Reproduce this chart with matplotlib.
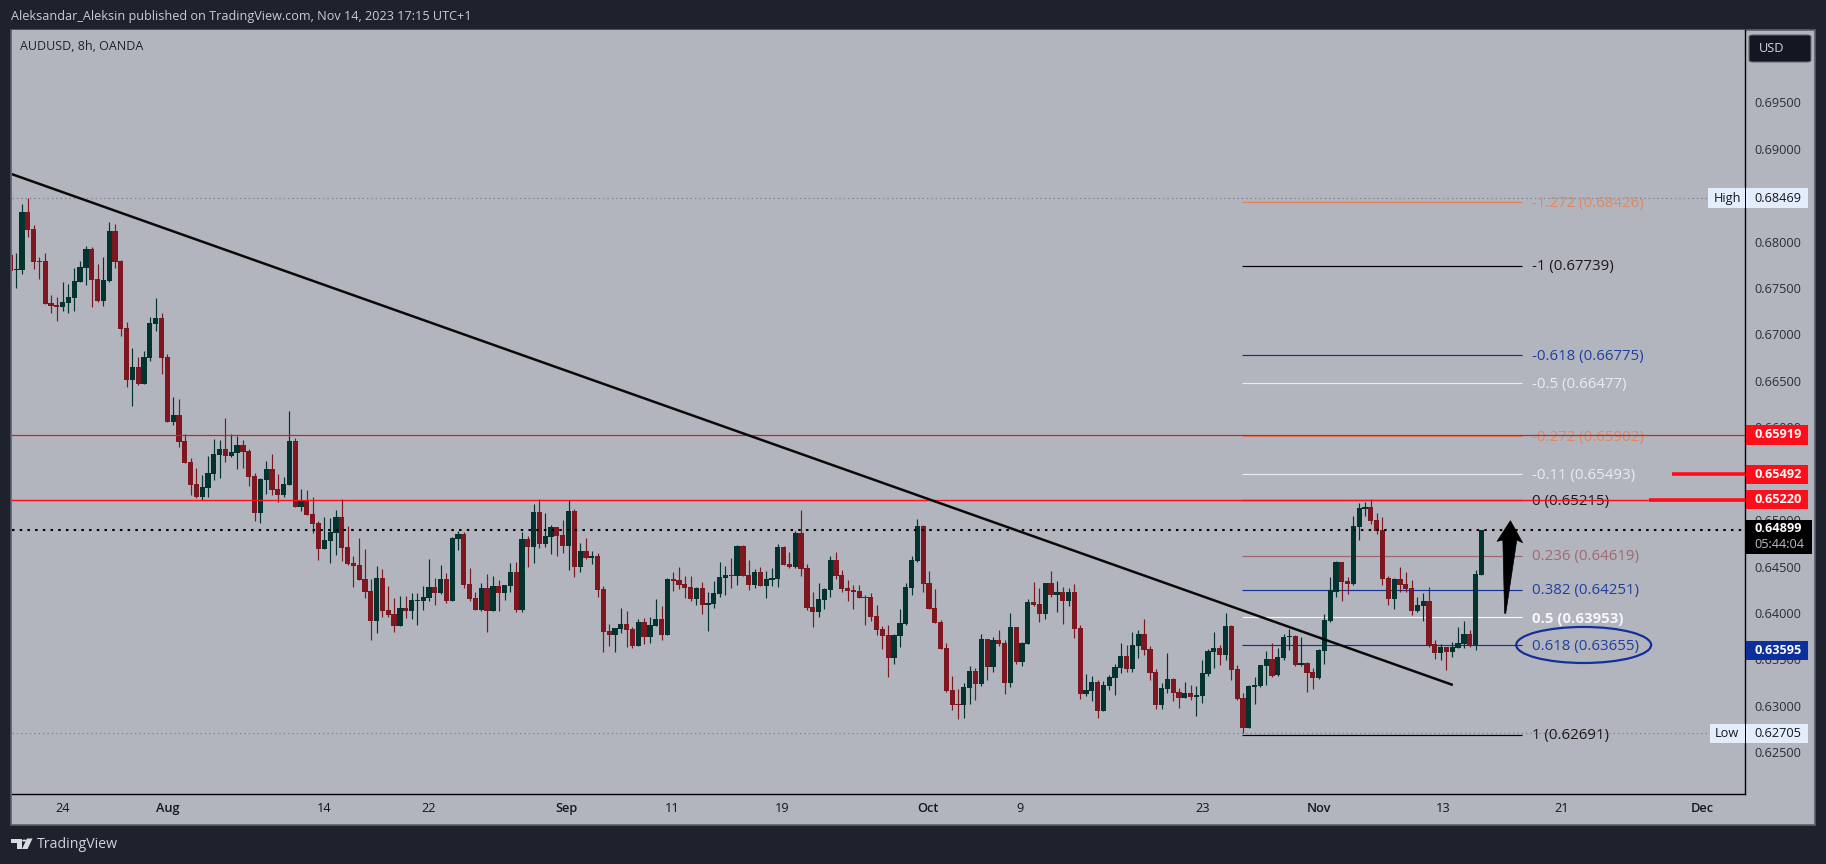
#!/usr/bin/python3
import numpy as np
import matplotlib
matplotlib.use('Agg')
import matplotlib.pyplot as plt
from matplotlib.patches import Rectangle, Polygon, Ellipse, FancyBboxPatch, Circle
from matplotlib.transforms import blended_transform_factory

# AUDUSD 8h candles, in 1e-5 price units
opens_pts = [
    67855, 67690, 67694, 68318, 68135, 67791, 67791, 67338, 67317, 67295,
    67338, 67392, 67564, 67719, 67920, 67597, 67360, 67575, 68114, 67791,
    67069, 66509, 66649, 66466, 66746, 67112, 67177, 66757, 66057, 66132,
    65852, 65626, 65389, 65249, 65346, 65497, 65701, 65766, 65690, 65723,
    65809, 65744, 65475, 65077, 65432, 65550, 65335, 65270, 65378, 65852,
    65142, 65206, 65066, 64969, 64689, 64776, 64862, 65034, 64711, 64539,
    64517, 64366, 64237, 63914, 64377, 64032, 63989, 63860, 64054, 64022,
    64129, 64129, 64162, 64280, 64215, 64366, 64129, 64797, 64851, 64312,
    64162, 64032, 64269, 64022, 64291, 64215, 64291, 64442, 64032, 64797,
    64711, 65088, 64743, 64819, 64926, 64840, 64722, 65099, 64496, 64668,
    64592, 64614, 64259, 63806, 63763, 63828, 63882, 63828, 63645, 63903,
    63742, 63860, 63935, 63763, 64366, 64355, 64312, 64280, 64151, 64269,
    64086, 64097, 64205, 64377, 64409, 64399, 64722, 64409, 64302, 64442,
    64291, 64355, 64366, 64711, 64528, 64496, 64862, 64485, 64065, 64011,
    64141, 64248, 64571, 64410, 64270, 64248, 64238, 64173, 64173, 63968,
    63828, 63764, 63516, 63753, 63882, 64270, 64561, 64938, 64324, 64054,
    63904, 63624, 63171, 63020, 63010, 63193, 63376, 63236, 63721, 63419,
    63710, 63677, 63247, 63850, 63473, 63667, 64119, 64098, 63990, 64324,
    64194, 64227, 64130, 64227, 63839, 63128, 63161, 63257, 62945, 63214,
    63301, 63408, 63537, 63397, 63645, 63774, 63613, 63365, 63010, 63182,
    63290, 63150, 63085, 63139, 63096, 63106, 63343, 63580, 63623, 63548,
    63860, 63397, 63084, 62761, 63203, 63214, 63429, 63504, 63332, 63515,
    63741, 63752, 63440, 63461, 63364, 63300, 63591, 63914, 64226, 64549,
    64345, 64312, 64926, 65120, 65142, 65002, 64894, 64377, 64151, 64366,
    64312, 64269, 64021, 64075, 64129, 63666, 63569, 63634, 63580, 63623,
    63666, 63774, 63655, 64409,
]
highs_pts = [
    67999, 67873, 68404, 68469, 68178, 67830, 67873, 67424, 67403, 67564,
    67543, 67715, 67791, 67952, 67938, 67758, 67834, 68211, 68189, 67801,
    67134, 66854, 66757, 66821, 67187, 67392, 67230, 66789, 66326, 66304,
    65927, 65669, 65561, 65486, 65690, 65873, 65863, 66100, 65927, 65906,
    65863, 65766, 65507, 65453, 65637, 65712, 65497, 65464, 66175, 65884,
    65336, 65325, 65249, 64991, 65034, 65023, 65110, 65228, 64937, 64614,
    64808, 64689, 64366, 64506, 64474, 64291, 64162, 64183, 64183, 64215,
    64215, 64291, 64582, 64377, 64517, 64431, 64819, 64883, 64872, 64485,
    64226, 64323, 64420, 64399, 64355, 64302, 64539, 64549, 64872, 64829,
    65174, 65228, 65077, 64948, 64926, 65002, 65217, 65120, 64754, 64808,
    64668, 64646, 64291, 63882, 63839, 64054, 64022, 63849, 63935, 63946,
    63957, 64151, 64075, 64377, 64442, 64496, 64399, 64399, 64280, 64334,
    64226, 64345, 64549, 64506, 64592, 64732, 64732, 64571, 64474, 64496,
    64452, 64485, 64743, 64722, 64657, 64883, 65110, 64528, 64227, 64324,
    64270, 64614, 64658, 64464, 64356, 64302, 64302, 64194, 64216, 64087,
    63861, 63871, 63774, 64044, 64324, 64614, 65013, 64948, 64453, 64259,
    63925, 63677, 63322, 63182, 63247, 63430, 63408, 63774, 63721, 63742,
    63818, 63710, 64001, 63850, 63688, 64151, 64334, 64270, 64324, 64453,
    64345, 64281, 64270, 64313, 63871, 63344, 63322, 63279, 63268, 63333,
    63451, 63677, 63656, 63796, 63818, 63936, 63645, 63397, 63247, 63570,
    63301, 63193, 63257, 63225, 63214, 63494, 63612, 63795, 63655, 64000,
    63871, 63440, 63138, 63224, 63311, 63440, 63591, 63677, 63623, 63774,
    63828, 63763, 63741, 63472, 63408, 63612, 63989, 64388, 64560, 64549,
    64388, 65045, 65185, 65195, 65228, 65077, 65034, 64398, 64377, 64495,
    64441, 64355, 64172, 64215, 64280, 63709, 63666, 63634, 63688, 63849,
    63914, 63817, 64463, 64899,
]
lows_pts = [
    67557, 67503, 67651, 68053, 67708, 67600, 67331, 67234, 67148, 67252,
    67234, 67252, 67564, 67532, 67299, 67349, 67306, 67564, 67715, 66983,
    66434, 66229, 66455, 66466, 66714, 67037, 66574, 66057, 66024, 65787,
    65615, 65270, 65238, 65216, 65249, 65432, 65453, 65626, 65680, 65550,
    65561, 65367, 64991, 64970, 65282, 65271, 65196, 65249, 65378, 65142,
    65099, 65056, 64862, 64571, 64689, 64539, 64625, 64560, 64517, 64280,
    64356, 64162, 63709, 63785, 63957, 63957, 63796, 63860, 63946, 63935,
    63871, 64032, 64129, 64086, 64205, 64108, 64129, 64679, 64269, 64129,
    64032, 64022, 63795, 64022, 64022, 64140, 64226, 64011, 64011, 64496,
    64539, 64700, 64711, 64636, 64614, 64646, 64463, 64388, 64442, 64582,
    64528, 64172, 63580, 63645, 63580, 63785, 63634, 63623, 63645, 63666,
    63677, 63860, 63709, 63763, 64237, 64259, 64162, 64129, 64086, 63989,
    63806, 64054, 64172, 64194, 64269, 64302, 64399, 64248, 64269, 64291,
    64162, 64291, 64280, 64517, 64485, 64485, 64399, 64033, 63850, 63957,
    64044, 64173, 64367, 64227, 64130, 64044, 64162, 63871, 63914, 63764,
    63613, 63311, 63451, 63634, 63871, 64194, 64550, 64227, 64044, 63893,
    63613, 63150, 62956, 62859, 62870, 63020, 63064, 63214, 63279, 63365,
    63645, 63128, 63204, 63451, 63430, 63667, 64076, 63904, 63936, 64173,
    64011, 63882, 64076, 63731, 63074, 63107, 63053, 62870, 62945, 63171,
    63117, 63354, 63365, 63365, 63516, 63548, 63279, 62967, 62967, 63139,
    63053, 62977, 63085, 63064, 62891, 63031, 63321, 63408, 63440, 63494,
    63278, 63063, 62707, 62761, 63020, 63203, 63224, 63311, 63321, 63494,
    63601, 63429, 63429, 63149, 63181, 63289, 63451, 63903, 64172, 64129,
    64205, 64301, 64786, 65045, 64958, 64851, 64301, 64086, 64043, 64226,
    64226, 63978, 64011, 63914, 63634, 63504, 63494, 63386, 63526, 63623,
    63623, 63634, 63601, 64409,
]
closes_pts = [
    67686, 67708, 68318, 68128, 67783, 67780, 67331, 67306, 67295, 67349,
    67403, 67575, 67726, 67920, 67586, 67360, 67586, 68114, 67780, 67058,
    66509, 66649, 66466, 66757, 67123, 67177, 66746, 66057, 66132, 65841,
    65615, 65378, 65249, 65357, 65507, 65712, 65766, 65690, 65733, 65809,
    65733, 65464, 65077, 65443, 65550, 65324, 65271, 65389, 65852, 65142,
    65206, 65056, 64959, 64689, 64786, 64873, 65034, 64700, 64528, 64506,
    64356, 64226, 63914, 64377, 64022, 63979, 63860, 64054, 64022, 64140,
    64140, 64172, 64280, 64215, 64366, 64129, 64808, 64851, 64302, 64151,
    64032, 64269, 64022, 64291, 64215, 64302, 64442, 64032, 64797, 64711,
    65088, 64743, 64829, 64926, 64829, 64722, 65099, 64496, 64668, 64592,
    64614, 64248, 63795, 63763, 63839, 63882, 63817, 63645, 63903, 63742,
    63871, 63935, 63763, 64366, 64345, 64302, 64269, 64151, 64269, 64086,
    64108, 64215, 64388, 64409, 64399, 64722, 64399, 64302, 64442, 64291,
    64366, 64377, 64711, 64517, 64496, 64862, 64474, 64054, 64011, 64151,
    64259, 64571, 64399, 64259, 64238, 64227, 64162, 64162, 63957, 63817,
    63753, 63516, 63764, 63893, 64281, 64571, 64938, 64313, 64044, 63893,
    63613, 63161, 63010, 63010, 63204, 63376, 63236, 63721, 63419, 63710,
    63667, 63247, 63850, 63473, 63677, 64119, 64087, 63990, 64324, 64194,
    64227, 64130, 64227, 63828, 63128, 63171, 63257, 62945, 63225, 63311,
    63419, 63537, 63397, 63656, 63774, 63602, 63354, 63010, 63193, 63290,
    63139, 63085, 63139, 63096, 63117, 63354, 63591, 63623, 63548, 63860,
    63386, 63074, 62761, 63214, 63224, 63440, 63504, 63321, 63526, 63741,
    63752, 63440, 63461, 63354, 63300, 63601, 63925, 64248, 64549, 64334,
    64312, 64937, 65131, 65142, 64991, 64883, 64366, 64151, 64366, 64301,
    64258, 64021, 64086, 64129, 63655, 63569, 63634, 63580, 63634, 63677,
    63774, 63655, 64420, 64899,
]

x_tick_pos = [9, 27, 54, 72, 95.7, 113.8, 132.8, 157.8, 173.7, 205.1, 225, 246.4, 266.9, 291]
x_tick_labels = ['24', 'Aug', '14', '22', 'Sep', '11', '19', 'Oct', '9', '23', 'Nov', '13', '21', 'Dec']
y_ticks = [0.625, 0.63, 0.635, 0.64, 0.645, 0.65, 0.655, 0.66, 0.665,
           0.67, 0.675, 0.68, 0.685, 0.69, 0.695]

# fib levels
fib_labels = ['-1.272 (0.68426)', '-1 (0.67739)', '-0.618 (0.66775)', '-0.5 (0.66477)',
              '-0.272 (0.65902)', '-0.11 (0.65493)', '0 (0.65215)', '0.236 (0.64619)',
              '0.382 (0.64251)', '0.5 (0.63953)', '0.618 (0.63655)', '1 (0.62691)']
fib_prices = [0.68426, 0.67739, 0.66775, 0.66477, 0.65902, 0.65493, 0.65215, 0.64619,
              0.64251, 0.63953, 0.63655, 0.62691]
fib_colors = ['#e0835a', '#000000', '#12309a', '#e8ebf2', '#e0835a', '#e8ebf2', '#000000', '#9c666c',
              '#12309a', '#f4f6fa', '#12309a', '#000000']
fib_text_colors = ['#dd8a62', '#1a1a1a', '#1f3f9e', '#e8ebf2', '#dd8a62', '#e8ebf2', '#1a1a1a', '#a06a70',
                   '#1f3f9e', '#f4f6fa', '#1f3f9e', '#1a1a1a']

BG = '#1e222d'
PANE = '#b2b5be'
GREEN = '#03332e'
RED = '#7e1720'
W, H = 1826, 864


def fx(px):
    return px / W


def fy(py):
    return 1 - py / H


opens = np.array(opens_pts) / 1e5
highs = np.array(highs_pts) / 1e5
lows = np.array(lows_pts) / 1e5
closes = np.array(closes_pts) / 1e5
idx = np.arange(len(opens))
colors = [GREEN if c >= o else RED for o, c in zip(opens, closes)]

fig = plt.figure(figsize=(W / 100, H / 100), dpi=100, facecolor=BG)
plt.rcParams['font.family'] = 'Open Sans'

# whole chart frame incl. the two scales
frame = Rectangle((fx(11), fy(824.5)), fx(1815 - 11), (824.5 - 30) / H, transform=fig.transFigure,
                  facecolor=PANE, edgecolor='#5b5f6b', linewidth=1.2, zorder=-1)
fig.add_artist(frame)

ax = fig.add_axes([fx(11.5), fy(794), fx(1745.3 - 11.5), (794 - 30) / H])
ax.set_facecolor(PANE)
ax.set_xlim(0.2, 298.4)
ax.set_ylim(0.62051, 0.70279)
for s in ['left', 'top']:
    ax.spines[s].set_visible(False)
for s in ['right', 'bottom']:
    ax.spines[s].set_color('#000000')
    ax.spines[s].set_linewidth(1.0)

ax.yaxis.tick_right()
ax.set_yticks(y_ticks)
ax.set_yticklabels(['%.5f' % v for v in y_ticks], fontsize=9.2, color='#2a2e39')
ax.set_xticks(x_tick_pos)
ax.set_xticklabels(x_tick_labels, fontsize=9.2, color='#131722')
ax.tick_params(axis='y', length=0, pad=6.3)
ax.tick_params(axis='x', length=0, pad=5.5)
for lab, t in zip(ax.get_xticklabels(), x_tick_labels):
    if not t.isdigit():
        lab.set_fontweight('semibold')

# high / low dotted lines
ax.hlines([0.68469, 0.62705], 0.2, 292, colors='#7b7e8c', linewidth=0.9,
          linestyles=(0, (1, 2.5)), zorder=1)

# fib lines and labels
for lab, p, c, tc in zip(fib_labels, fib_prices, fib_colors, fib_text_colors):
    ax.hlines(p, 211.9, 260.06, colors=c, linewidth=0.85, zorder=1.5)
    weight = 'bold' if lab.startswith('0.5 ') else 'normal'
    ax.text(261.7, p - 0.00012, lab, color=tc, fontsize=10.8, va='center', ha='left', fontweight=weight, zorder=2)

# candles
ax.vlines(idx, lows, highs, colors=colors, linewidth=0.85, zorder=3)
ax.bar(idx, np.abs(closes - opens), 0.9, np.minimum(opens, closes), color=colors, linewidth=0, zorder=3.1)

# horizontal levels
ax.axhline(0.65919, color='#cf1f28', linewidth=0.9, zorder=4)
ax.axhline(0.6522, color='#ff0d1a', linewidth=1.0, zorder=4)
ax.hlines(0.6522, 281.9, 298.4, colors='#ff0d1a', linewidth=2.6, zorder=4)
ax.hlines(0.65492, 285.8, 298.4, colors='#ff0d1a', linewidth=2.6, zorder=4)
ax.hlines(0.64899, 0.2, 298.4, colors='#000000', linewidth=1.5, linestyles=(0, (1.2, 2.5)), zorder=4)

# trend line
ax.plot([0.2, 248.1], [0.68728, 0.63225], color='#0a0a0a', linewidth=1.8, zorder=5,
        solid_capstyle='butt')

# arrow and ellipse
arrow_x = [258, 260.1, 259.1, 257.2, 257.0, 256.7, 255.7]
arrow_y = [0.64994, 0.64757, 0.64787, 0.63997, 0.63997, 0.64787, 0.64772]
ax.add_patch(Polygon(np.column_stack([arrow_x, arrow_y]), closed=True, facecolor='#000000',
                     edgecolor='#000000', linewidth=0.5, zorder=5))
ax.add_patch(Ellipse((270.6, 0.63656), 23.2, 0.00388, facecolor='none', edgecolor='#12309a',
                     linewidth=1.6, zorder=5))

# price labels on the scale, x in figure px, y in price
tr = blended_transform_factory(fig.transFigure, ax.transData)
box_h = 19.5 / 9286


def price_box(price, text, fc, tc, right=1807.5, bold=True):
    fig.add_artist(Rectangle((fx(1745.8), price - box_h / 2), fx(right - 1745.8), box_h, transform=tr,
                             facecolor=fc, edgecolor='none', zorder=6))
    fig.text(fx(1754.3), price, text, transform=tr, color=tc, fontsize=9.2, va='center', ha='left',
             fontweight='bold' if bold else 'normal', zorder=7)


price_box(0.65919, '0.65919', '#ff0d1a', '#ffffff')
price_box(0.65492, '0.65492', '#ff0d1a', '#ffffff')
price_box(0.6522, '0.65220', '#ff0d1a', '#ffffff')
price_box(0.63595, '0.63595', '#0d2f9b', '#ffffff')
price_box(0.68469, '0.68469', '#e4edfb', '#131722', bold=False)
price_box(0.62705, '0.62705', '#e4edfb', '#131722', bold=False)

# High / Low tags left of the scale
for price, text, left in [(0.68469, 'High', 1708.3), (0.62705, 'Low', 1710)]:
    fig.add_artist(Rectangle((fx(left), price - box_h / 2), fx(1744.8 - left), box_h, transform=tr,
                             facecolor='#e4edfb', edgecolor='none', zorder=6))
    fig.text(fx(1727), price, text, transform=tr, color='#131722', fontsize=9.2, va='center',
             ha='center', zorder=7)

# current price, two lines
fig.add_artist(Rectangle((fx(1745.8), fy(553.7)), fx(1811.5 - 1745.8), 33.7 / H, transform=fig.transFigure,
                         facecolor='#000000', edgecolor='none', zorder=6))
fig.text(fx(1754.3), fy(529), '0.64899', color='#ffffff', fontsize=9.2, va='center', fontweight='bold', zorder=7)
fig.text(fx(1754.3), fy(544), '05:44:04', color='#b8bbc4', fontsize=9.2, va='center', zorder=7)

# USD button
fig.add_artist(FancyBboxPatch((fx(1751), fy(61)), fx(58), 25 / H,
                              boxstyle='round,pad=0.001,rounding_size=0.002', transform=fig.transFigure,
                              facecolor='#131722', edgecolor='#4a4e5a', linewidth=0.8, zorder=6))
fig.text(fx(1759), fy(48.5), 'USD', color='#d1d4dc', fontsize=9.2, va='center', zorder=7)

# header / footer
fig.text(fx(11), fy(16.5), 'Aleksandar_Aleksin published on TradingView.com, Nov 14, 2023 17:15 UTC+1',
         color='#c8ccd5', fontsize=9.1, va='center')
fig.text(fx(20), fy(46.5), 'AUDUSD, 8h, OANDA', color='#1e222d', fontsize=9.0, va='center', zorder=7)

logo = '#d8dbe2'
fig.add_artist(Polygon([(fx(11.3), fy(838.5)), (fx(21.5), fy(838.5)), (fx(21.5), fy(849)), (fx(16.5), fy(849)),
                        (fx(16.5), fy(843)), (fx(11.3), fy(843))], transform=fig.transFigure, facecolor=logo,
                       edgecolor='none'))
fig.add_artist(Polygon([(fx(27), fy(838.5)), (fx(32.5), fy(838.5)), (fx(27.5), fy(849)), (fx(22), fy(849))],
                       transform=fig.transFigure, facecolor=logo, edgecolor='none'))
fig.add_artist(Circle((fx(24.3), fy(840.6)), 2.2 / W, transform=fig.transFigure, facecolor=logo, edgecolor='none'))
fig.text(fx(37), fy(845), 'TradingView', color='#d1d4dc', fontsize=10.2, va='center')

fig.savefig('out.png', dpi=100, facecolor=BG)
